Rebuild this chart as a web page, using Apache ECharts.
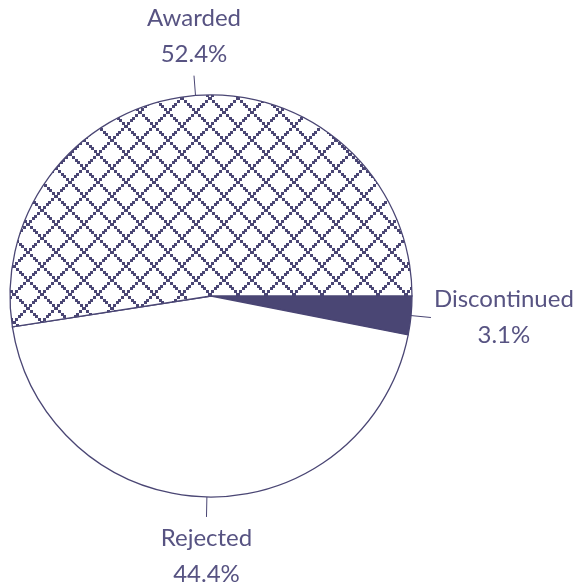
<!DOCTYPE html>
<html>
<head>
<meta charset="utf-8">
<script src="https://cdn.jsdelivr.net/npm/echarts@6/dist/echarts.min.js"></script>
<style>
html,body{margin:0;padding:0;background:#fff;}
#main{width:586px;height:586px;}
</style>
</head>
<body>
<div id="main"></div>
<script>
const categories = ['Discontinued', 'Rejected', 'Awarded'];
const values = [3.1, 44.4, 52.4];

const ink = '#4a4674';
const textInk = '#575382';

function hatch() {
  const d = Math.max(1, Math.round(window.devicePixelRatio || 1));
  const n = 28, steps = 10, sq = 3;
  const c = document.createElement('canvas');
  c.width = n * d; c.height = n * d;
  const g = c.getContext('2d');
  g.fillStyle = '#ffffff';
  g.fillRect(0, 0, n * d, n * d);
  g.fillStyle = ink;
  const put = (x, y) => {
    for (const ox of [0, -n, n]) for (const oy of [0, -n, n]) {
      g.fillRect((x + ox) * d, (y + oy) * d, sq * d, sq * d);
    }
  };
  for (let i = 0; i < steps; i++) {
    const t = Math.round(i * n / steps);
    put(t - 1, t - 1);
    put(n - t - 2, t - 1);
  }
  return c;
}

const fills = [ink, '#ffffff', { image: hatch(), repeat: 'repeat' }];

const chart = echarts.init(document.getElementById('main'), null, { renderer: 'canvas' });
chart.setOption({
  animation: false,
  backgroundColor: '#ffffff',
  series: [{
    type: 'pie',
    center: [211, 296],
    radius: 201,
    startAngle: 0,
    clockwise: true,
    avoidLabelOverlap: false,
    data: categories.map((name, i) => ({
      name: name,
      value: values[i],
      itemStyle: { color: fills[i] }
    })),
    itemStyle: { borderColor: ink, borderWidth: 1.3 },
    emphasis: { disabled: true },
    label: {
      show: true,
      position: 'outside',
      formatter: p => p.name + '\n' + p.value.toFixed(1) + '%',
      fontFamily: 'Lato',
      fontSize: 24,
      lineHeight: 36,
      color: textInk
    },
    labelLine: {
      show: true,
      length: 20,
      length2: 0,
      smooth: false,
      lineStyle: { color: ink, width: 1 }
    },
    labelLayout: function (p) {
      const pts = p.labelLinePoints;
      if (!pts) return {};
      const a = pts[0], b = pts[pts.length - 1];
      const dx = b[0] - a[0], dy = b[1] - a[1];
      const gap = 3;
      if (Math.abs(dy) > Math.abs(dx)) {
        return { x: b[0], y: b[1] + (dy < 0 ? -gap : gap), align: 'center',
                 verticalAlign: dy < 0 ? 'bottom' : 'top', labelLinePoints: pts };
      }
      const s = dx > 0 ? 1 : -1;
      return { x: b[0] + s * (gap + p.labelRect.width / 2), y: b[1], align: 'center',
               verticalAlign: 'middle', labelLinePoints: pts };
    }
  }]
});
</script>
</body>
</html>
